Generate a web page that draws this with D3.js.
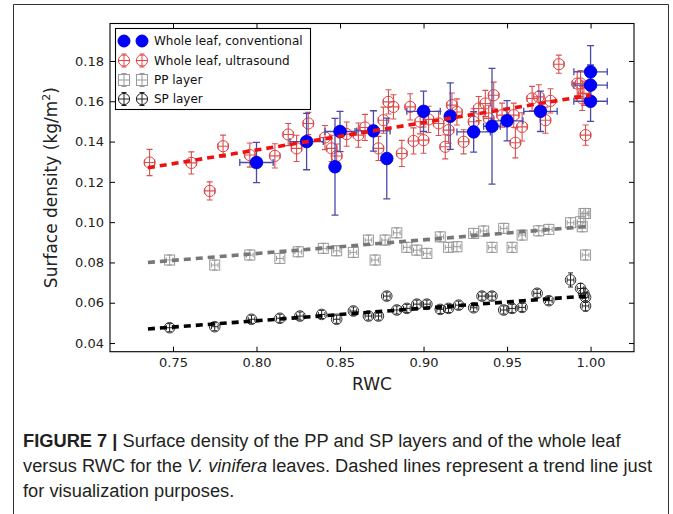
<!DOCTYPE html>
<html>
<head>
<meta charset="utf-8">
<script src="https://cdn.jsdelivr.net/npm/d3@7"></script>
<style>
  html, body { margin: 0; padding: 0; background: #fff; }
  svg { display: block; }
</style>
</head>
<body>
<svg id="chart" width="673" height="514"></svg>
<script>
// ---------------- DATA ----------------
const xDomain = [0.7123, 1.026];
const yDomain = [0.0357, 0.1986];
const xTicks = [0.75, 0.80, 0.85, 0.90, 0.95, 1.00];
const yTicks = [0.04, 0.06, 0.08, 0.10, 0.12, 0.14, 0.16, 0.18];
const xLabel = "RWC";
const legendLabels = ["Whole leaf, conventional", "Whole leaf, ultrasound", "PP layer", "SP layer"];

// Whole leaf, conventional (blue filled)
const convRWC     = [0.800, 0.830, 0.847, 0.850, 0.870, 0.878, 0.900, 0.916, 0.930, 0.941, 0.950, 0.970, 1.000, 1.000, 1.000];
const convDensity = [0.1296, 0.1400, 0.1275, 0.1450, 0.1453, 0.1316, 0.1550, 0.1526, 0.1448, 0.1476, 0.1503, 0.1550, 0.1746, 0.1680, 0.1600];
const convErrY    = [0.010, 0.014, 0.024, 0.010, 0.010, 0.020, 0.010, 0.0165, 0.010, 0.0287, 0.010, 0.010, 0.013, 0.010, 0.010];
const convErrX    = [0.010, 0.010, 0.000, 0.009, 0.010, 0.000, 0.010, 0.000, 0.010, 0.005, 0.0095, 0.010, 0.010, 0.010, 0.010];

// Whole leaf, ultrasound (red hollow)
const usRWC = [0.736,0.761,0.772,0.780,0.796,0.811,0.819,0.824,0.831,0.841,
               0.845,0.848,0.854,0.861,0.865,0.873,0.876,0.879,0.882,0.887,
               0.892,0.894,0.898,0.900,0.903,0.909,0.913,0.915,0.917,0.920,
               0.924,0.930,0.933,0.937,0.939,0.942,0.947,0.954,0.955,0.959,
               0.965,0.969,0.973,0.976,0.981,0.992,0.994,0.995,0.996,0.997];
const usDensity = [0.1296,0.1294,0.1155,0.1377,0.1333,0.1329,0.1435,0.1366,0.1490,0.1420,
                   0.1366,0.1328,0.1437,0.1432,0.1470,0.1366,0.1506,0.1597,0.1572,0.1341,
                   0.1572,0.1403,0.1498,0.1407,0.1510,0.1490,0.1374,0.1457,0.1581,0.1547,
                   0.1399,0.1498,0.1564,0.1589,0.1515,0.1630,0.1531,0.1531,0.1394,0.1473,
                   0.1614,0.1622,0.1506,0.1602,0.1784,0.1688,0.1688,0.1614,0.1639,0.1432];
const usErrY = [0.0065,0.0055,0.0045,0.0055,0.006,0.006,0.0055,0.0065,0.0055,0.006,
                0.0065,0.006,0.006,0.006,0.0065,0.006,0.0065,0.006,0.006,0.0065,
                0.0065,0.0065,0.006,0.0065,0.0065,0.006,0.006,0.0065,0.006,0.0065,
                0.006,0.0065,0.006,0.0065,0.0065,0.0065,0.006,0.006,0.0075,0.007,
                0.006,0.006,0.0065,0.006,0.0045,0.006,0.0065,0.006,0.006,0.005];
const usErrX = 0.003;

// PP layer (grey squares)
const ppRWC = [0.748,0.775,0.796,0.814,0.825,0.840,0.848,0.858,0.867,0.871,
               0.877,0.884,0.890,0.896,0.902,0.910,0.915,0.920,0.930,0.936,
               0.941,0.948,0.953,0.959,0.969,0.975,0.988,0.994,0.996,0.997,
               0.995,0.997];
const ppDensity = [0.0812,0.0787,0.0837,0.0820,0.0853,0.0870,0.0858,0.0850,0.0911,0.0812,
                   0.0911,0.0947,0.0875,0.0861,0.0845,0.0927,0.0875,0.0878,0.0944,0.0956,
                   0.0875,0.0969,0.0875,0.0936,0.0957,0.0964,0.0997,0.1002,0.1043,0.1043,
                   0.0977,0.0837];
const ppErrY = 0.0025;
const ppErrX = 0.002;

// SP layer (black hollow circles)
const spRWC = [0.748,0.775,0.797,0.814,0.826,0.839,0.848,0.858,0.867,0.873,
               0.878,0.884,0.890,0.896,0.902,0.910,0.915,0.921,0.930,0.935,
               0.941,0.948,0.953,0.959,0.968,0.975,0.988,0.994,0.996,0.997,
               0.997];
const spDensity = [0.0476,0.0481,0.0518,0.0523,0.0534,0.0542,0.0518,0.0559,0.0534,0.0534,
                   0.0633,0.0564,0.0572,0.0593,0.0593,0.0567,0.0572,0.0588,0.0575,0.0633,
                   0.0633,0.0564,0.0572,0.0577,0.0647,0.0610,0.0713,0.0671,0.0647,0.0627,
                   0.0584];
const spErrY = [0.002,0.002,0.002,0.002,0.002,0.002,0.002,0.002,0.002,0.002,
                0.002,0.002,0.002,0.002,0.002,0.002,0.002,0.002,0.002,0.002,
                0.002,0.002,0.002,0.002,0.002,0.002,0.0035,0.0025,0.0025,0.0025,
                0.0025];
const spErrX = 0.002;

// Trend lines (dashed)
const trendRWC = [0.735, 1.000];
const trendUltrasound = [0.127, 0.163];
const trendPP = [0.080, 0.098];
const trendSP = [0.047, 0.0635];

// ---------------- DRAW ----------------
const svg = d3.select("#chart");
svg.append("rect").attr("width", 673).attr("height", 514).attr("fill", "#fff");

// figure frame (left, top, right)
svg.append("path")
  .attr("d", "M13.5,514 L13.5,4.5 L668.5,4.5 L668.5,514")
  .attr("fill", "none").attr("stroke", "#333").attr("stroke-width", 1);

const P = {left: 110, right: 634, top: 23.5, bottom: 351.7};
const x = d3.scaleLinear().domain(xDomain).range([P.left, P.right]);
const y = d3.scaleLinear().domain(yDomain).range([P.bottom, P.top]);

const tickFont = "DejaVu Sans, sans-serif";
const fmt = d3.format(".2f");

function styleAxis(g, showLabels) {
  g.select(".domain").remove();
  g.selectAll(".tick line").attr("stroke", "#000").attr("stroke-width", 1);
  g.selectAll(".tick text").attr("fill", "#222").style("font-family", tickFont).style("font-size", "13px");
  if (!showLabels) g.selectAll(".tick text").remove();
}

svg.append("g").attr("transform", `translate(0,${P.bottom})`)
  .call(d3.axisBottom(x).tickValues(xTicks).tickFormat(fmt).tickSizeInner(-5).tickSizeOuter(0).tickPadding(6))
  .call(g => styleAxis(g, true));
svg.append("g").attr("transform", `translate(0,${P.top})`)
  .call(d3.axisTop(x).tickValues(xTicks).tickSizeInner(-5).tickSizeOuter(0))
  .call(g => styleAxis(g, false));
svg.append("g").attr("transform", `translate(${P.left},0)`)
  .call(d3.axisLeft(y).tickValues(yTicks).tickFormat(fmt).tickSizeInner(-5).tickSizeOuter(0).tickPadding(6))
  .call(g => styleAxis(g, true));
svg.append("g").attr("transform", `translate(${P.right},0)`)
  .call(d3.axisRight(y).tickValues(yTicks).tickSizeInner(-5).tickSizeOuter(0))
  .call(g => styleAxis(g, false));

// axis titles
svg.append("text").attr("x", (P.left + P.right) / 2).attr("y", 390)
  .attr("text-anchor", "middle").style("font-family", tickFont).style("font-size", "17px")
  .attr("fill", "#222").text(xLabel);
const yt = svg.append("text")
  .attr("transform", `translate(57,${(P.top + P.bottom) / 2}) rotate(-90)`)
  .attr("text-anchor", "middle").style("font-family", tickFont).style("font-size", "17px").attr("fill", "#222");
yt.append("tspan").text("Surface density (kg/m");
yt.append("tspan").attr("dy", -7).style("font-size", "11px").text("2");
yt.append("tspan").attr("dy", 7).text(")");

const plot = svg.append("g");
plot.append("clipPath").attr("id", "clip").append("rect")
  .attr("x", P.left).attr("y", P.top).attr("width", P.right - P.left).attr("height", P.bottom - P.top);
const inner = plot.append("g").attr("clip-path", "url(#clip)");

function errorBars(g, xs, ys, ex, ey, color, cap, width) {
  const eg = g.append("g").attr("stroke", color).attr("stroke-width", width).attr("fill", "none");
  xs.forEach((xv, i) => {
    const yv = ys[i];
    const exi = Array.isArray(ex) ? ex[i] : ex;
    const eyi = Array.isArray(ey) ? ey[i] : ey;
    const cx = x(xv), cy = y(yv);
    if (eyi > 0) {
      const y1 = y(yv - eyi), y2 = y(yv + eyi);
      eg.append("line").attr("x1", cx).attr("x2", cx).attr("y1", y1).attr("y2", y2);
      eg.append("line").attr("x1", cx - cap).attr("x2", cx + cap).attr("y1", y1).attr("y2", y1);
      eg.append("line").attr("x1", cx - cap).attr("x2", cx + cap).attr("y1", y2).attr("y2", y2);
    }
    if (exi > 0) {
      const x1 = x(xv - exi), x2 = x(xv + exi);
      eg.append("line").attr("x1", x1).attr("x2", x2).attr("y1", cy).attr("y2", cy);
      eg.append("line").attr("x1", x1).attr("x2", x1).attr("y1", cy - cap).attr("y2", cy + cap);
      eg.append("line").attr("x1", x2).attr("x2", x2).attr("y1", cy - cap).attr("y2", cy + cap);
    }
  });
}

const COL = {
  blue: "#0000ff", blueErr: "#4a4aaa",
  red: "#e24545", redErr: "#da5050",
  grey: "#9a9a9a", black: "#222"
};

// PP layer
errorBars(inner, ppRWC, ppDensity, ppErrX, ppErrY, COL.grey, 2.5, 1);
inner.append("g").selectAll("rect").data(ppRWC).join("rect")
  .attr("x", (d) => x(d) - 5).attr("y", (d, i) => y(ppDensity[i]) - 5)
  .attr("width", 10).attr("height", 10)
  .attr("fill", "none").attr("stroke", COL.grey).attr("stroke-width", 1);

// SP layer
errorBars(inner, spRWC, spDensity, spErrX, spErrY, COL.black, 2.5, 1);
inner.append("g").selectAll("circle").data(spRWC).join("circle")
  .attr("cx", d => x(d)).attr("cy", (d, i) => y(spDensity[i])).attr("r", 5.3)
  .attr("fill", "none").attr("stroke", COL.black).attr("stroke-width", 0.9);

// ultrasound
errorBars(inner, usRWC, usDensity, usErrX, usErrY, COL.redErr, 3, 1.1);
inner.append("g").selectAll("circle").data(usRWC).join("circle")
  .attr("cx", d => x(d)).attr("cy", (d, i) => y(usDensity[i])).attr("r", 5.6)
  .attr("fill", "none").attr("stroke", COL.red).attr("stroke-width", 1);

// conventional
errorBars(inner, convRWC, convDensity, convErrX, convErrY, COL.blueErr, 3.5, 1.3);
inner.append("g").selectAll("circle").data(convRWC).join("circle")
  .attr("cx", d => x(d)).attr("cy", (d, i) => y(convDensity[i])).attr("r", 6.3)
  .attr("fill", COL.blue).attr("stroke", "#0000cc").attr("stroke-width", 0.8);

// trend lines
const line = d3.line().x(d => x(d[0])).y(d => y(d[1]));
[[trendUltrasound, "#ee1111"], [trendPP, "#777"], [trendSP, "#000"]].forEach(([vals, c]) => {
  inner.append("path").datum(trendRWC.map((r, i) => [r, vals[i]]))
    .attr("d", line).attr("fill", "none").attr("stroke", c)
    .attr("stroke-width", 3.6).attr("stroke-dasharray", "7,5");
});

// frame
svg.append("rect").attr("x", P.left).attr("y", P.top)
  .attr("width", P.right - P.left).attr("height", P.bottom - P.top)
  .attr("fill", "none").attr("stroke", "#000").attr("stroke-width", 1.1);

// legend
const lg = svg.append("g");
lg.append("rect").attr("x", 115.5).attr("y", 28.5).attr("width", 195).attr("height", 81)
  .attr("fill", "#fff").attr("stroke", "#000").attr("stroke-width", 1.1);
const rowY = [41, 60.5, 80, 99];
const mx = [124, 142];
function legendMarker(kind, cx, cy) {
  if (kind === 0) {
    lg.append("circle").attr("cx", cx).attr("cy", cy).attr("r", 6).attr("fill", COL.blue).attr("stroke", "#0000cc");
    return;
  }
  const c = kind === 1 ? COL.red : kind === 2 ? COL.grey : COL.black;
  const e = lg.append("g").attr("stroke", c).attr("fill", "none").attr("stroke-width", 1);
  e.append("line").attr("x1", cx).attr("x2", cx).attr("y1", cy - 6.5).attr("y2", cy + 6.5);
  e.append("line").attr("x1", cx - 6).attr("x2", cx + 6).attr("y1", cy).attr("y2", cy);
  e.append("line").attr("x1", cx - 2.5).attr("x2", cx + 2.5).attr("y1", cy - 6.5).attr("y2", cy - 6.5);
  e.append("line").attr("x1", cx - 2.5).attr("x2", cx + 2.5).attr("y1", cy + 6.5).attr("y2", cy + 6.5);
  if (kind === 2) {
    e.append("rect").attr("x", cx - 5.5).attr("y", cy - 5.5).attr("width", 11).attr("height", 11);
  } else {
    e.append("circle").attr("cx", cx).attr("cy", cy).attr("r", 5.6);
  }
}
legendLabels.forEach((lab, i) => {
  mx.forEach(m => legendMarker(i, m, rowY[i]));
  lg.append("text").attr("x", 154).attr("y", rowY[i] + 4.3)
    .style("font-family", tickFont).style("font-size", "12px").attr("fill", "#111").text(lab);
});

// caption
const capFont = "'Liberation Sans', Arial, sans-serif";
const cap = svg.append("g").attr("fill", "#231f20").style("font-family", capFont).style("font-size", "18px");
const l1 = cap.append("text").attr("x", 23).attr("y", 447);
l1.append("tspan").style("font-weight", "bold").text("FIGURE 7 | ");
l1.append("tspan").text("Surface density of the PP and SP layers and of the whole leaf");
const l2 = cap.append("text").attr("x", 23).attr("y", 472);
l2.append("tspan").text("versus RWC for the ");
l2.append("tspan").style("font-style", "italic").text("V. vinifera");
l2.append("tspan").text(" leaves. Dashed lines represent a trend line just");
const l3 = cap.append("text").attr("x", 23).attr("y", 497).text("for visualization purposes.");
const w2 = l2.node().getComputedTextLength();
const ratio = 629 / w2;
[l1, l2, l3].forEach(t => {
  const w = t.node().getComputedTextLength();
  t.attr("textLength", w * ratio).attr("lengthAdjust", "spacingAndGlyphs");
});
</script>
</body>
</html>
